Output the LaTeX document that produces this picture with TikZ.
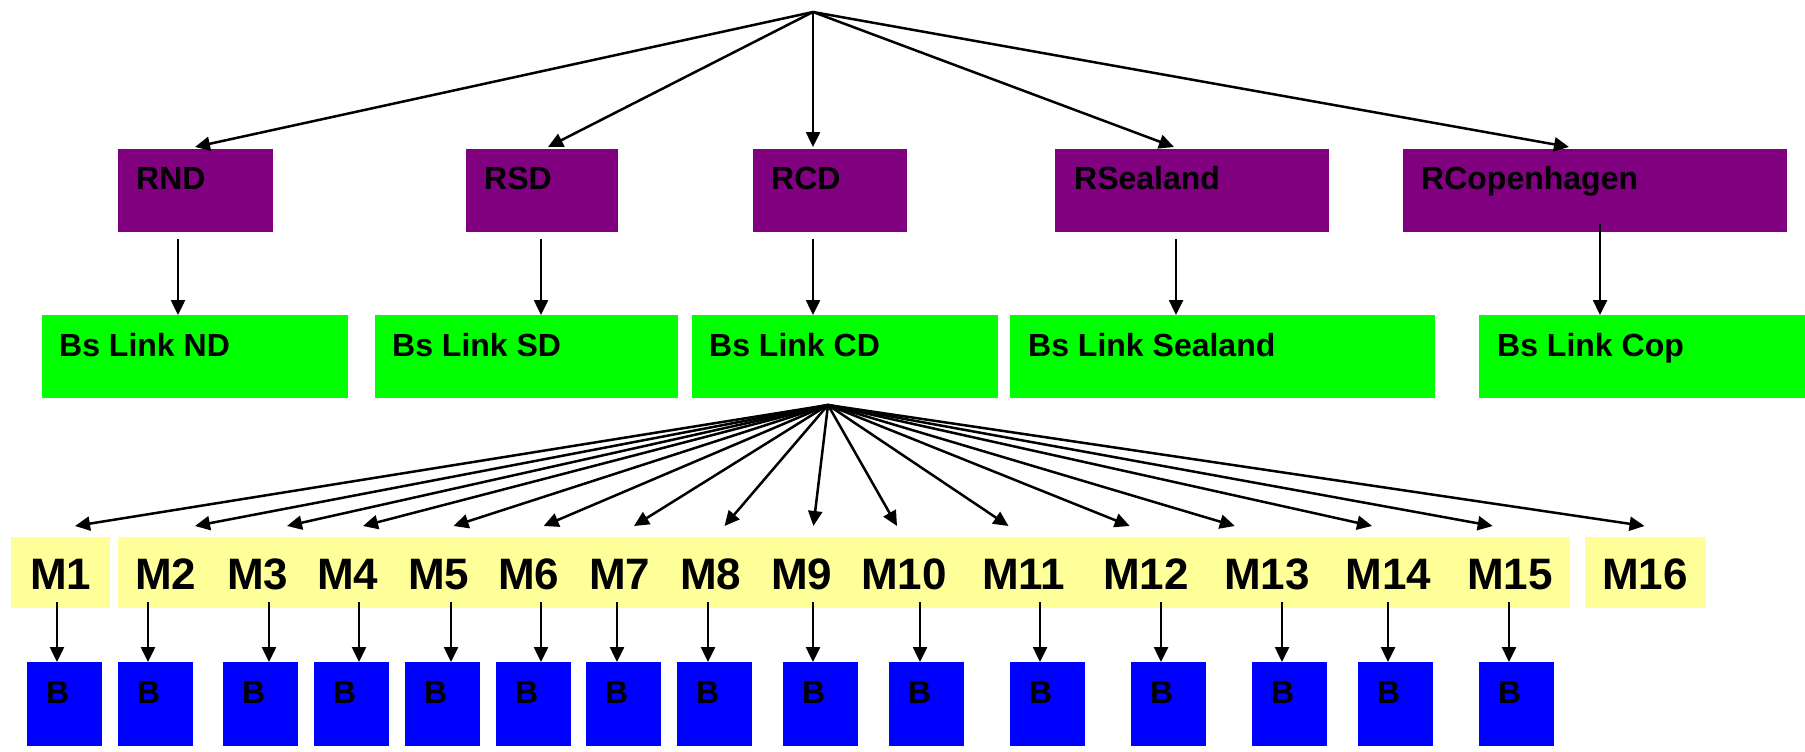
\documentclass[tikz,border=0pt]{standalone}
\usepackage{fontspec}
\setmainfont{Liberation Sans}
\usetikzlibrary{arrows.meta,calc}
\definecolor{rpurple}{HTML}{800080}
\definecolor{lgreen}{HTML}{00FF00}
\definecolor{myellow}{HTML}{FFFF99}
\definecolor{mblue}{HTML}{0000FF}
\tikzset{
  box/.style={draw=none, anchor=north west, inner sep=0pt, outer sep=0pt},
  pbox/.style={box, fill=rpurple, minimum height=83bp},
  gbox/.style={box, fill=lgreen, minimum height=83bp},
  ybox/.style={box, fill=myellow, minimum height=71bp},
  bbox/.style={box, fill=mblue, minimum width=75bp, minimum height=84bp},
  lbl/.style={anchor=base west, inner sep=0pt, font=\fontsize{32bp}{38bp}\selectfont\bfseries},
  mlbl/.style={anchor=base west, inner sep=0pt, font=\fontsize{44bp}{52bp}\selectfont\bfseries},
  arr/.style={-{Triangle[length=15bp,width=14bp]}, line width=2.5bp},
}
\begin{document}
\begin{tikzpicture}[x=1bp,y=-1bp]
\useasboundingbox (0,0) rectangle (1805,752);
\coordinate (top) at (813,12);
% purple row
\node[pbox, minimum width=155bp] (RND) at (118,149) {};
\node[pbox, minimum width=152bp] (RSD) at (466,149) {};
\node[pbox, minimum width=154bp] (RCD) at (753,149) {};
\node[pbox, minimum width=274bp] (RSea) at (1055,149) {};
\node[pbox, minimum width=384bp] (RCop) at (1403,149) {};
\node[lbl] (tRND) at ($(RND.north west)+(18,40)$) {RND};
\node[lbl] (tRSD) at ($(RSD.north west)+(18,40)$) {RSD};
\node[lbl] (tRCD) at ($(RCD.north west)+(18,40)$) {RCD};
\node[lbl] (tRSea) at ($(RSea.north west)+(19,40)$) {RSealand};
\node[lbl] (tRCop) at ($(RCop.north west)+(18,40)$) {RCopenhagen};
% green row
\node[gbox, minimum width=306bp] (ND) at (42,315) {};
\node[gbox, minimum width=303bp] (SD) at (375,315) {};
\node[gbox, minimum width=306bp] (CD) at (692,315) {};
\node[gbox, minimum width=425bp] (Sea) at (1010,315) {};
\node[gbox, minimum width=326bp] (Cop) at (1479,315) {};
\node[lbl] (tND) at ($(ND.north west)+(17,41)$) {Bs Link ND};
\node[lbl] (tSD) at ($(SD.north west)+(17,41)$) {Bs Link SD};
\node[lbl] (tCD) at ($(CD.north west)+(17,41)$) {Bs Link CD};
\node[lbl] (tSea) at ($(Sea.north west)+(18,41)$) {Bs Link Sealand};
\node[lbl] (tCop) at ($(Cop.north west)+(18,41)$) {Bs Link Cop};
% top arrows
\draw[arr] (top) -- ($(RND.north west)+(77,-2)$);
\draw[arr] (top) -- ($(RSD.north west)+(82,-2)$);
\draw[arr] (top) -- ($(RCD.north west)+(60,-2)$);
\draw[arr] (top) -- ($(RSea.north west)+(119,-2)$);
\draw[arr] (top) -- ($(RCop.north west)+(166,-2)$);
% purple -> green
\draw[arr] ($(RND.south west)+(60,7)$) -- ($(ND.north west)+(136,0)$);
\draw[arr] ($(RSD.south west)+(75,7)$) -- ($(SD.north west)+(166,0)$);
\draw[arr] ($(RCD.south west)+(60,7)$) -- ($(CD.north west)+(121,0)$);
\draw[arr] ($(RSea.south west)+(121,7)$) -- ($(Sea.north west)+(166,0)$);
\draw[arr] ($(RCop.south west)+(197,-8)$) -- ($(Cop.north west)+(121,0)$);
% M row
\node[ybox, minimum width=99bp] (mrowA) at (11,537) {};
\node[ybox, minimum width=1452bp] (mrowB) at (118,537) {};
\node[ybox, minimum width=121bp] (mrowC) at (1585,537) {};
\foreach \i/\x in {1/30,2/135,3/227,4/317,5/408,6/498,7/589,8/680,9/771,10/861,11/982,12/1103,13/1224,14/1345.5,15/1467,16/1602}
  \node[mlbl] (m\i) at (\x,589) {M\i};
\coordinate (cdtop) at ($(CD.south west)+(136,7)$);
\foreach \i/\x in {1/75,2/195,3/287,4/363,5/453.5,6/543.6,7/634,8/724.5,9/813.4,10/897,11/1008.5,12/1129.7,13/1234.8,14/1372,15/1492.7,16/1644.5}{
  \coordinate (t\i) at (\x,526);
  \draw[arr] (cdtop) -- (t\i);
}
% B row
\foreach \i/\x/\dx in {1/27/30,2/118/30,3/223/46,4/314/45,5/405/46,6/496/45,7/586/31,8/677/31,9/783/30,10/889/31,11/1010/30,12/1131/30,13/1252/30,14/1358/30,15/1479/30}{
  \node[bbox] (b\i) at (\x,662) {};
  \node[lbl] (tb\i) at ($(b\i.north west)+(19,41)$) {B};
  \draw[arr] ($(b\i.north west)+(\dx,-60)$) -- ($(b\i.north west)+(\dx,0)$);
}
\end{tikzpicture}
\end{document}
